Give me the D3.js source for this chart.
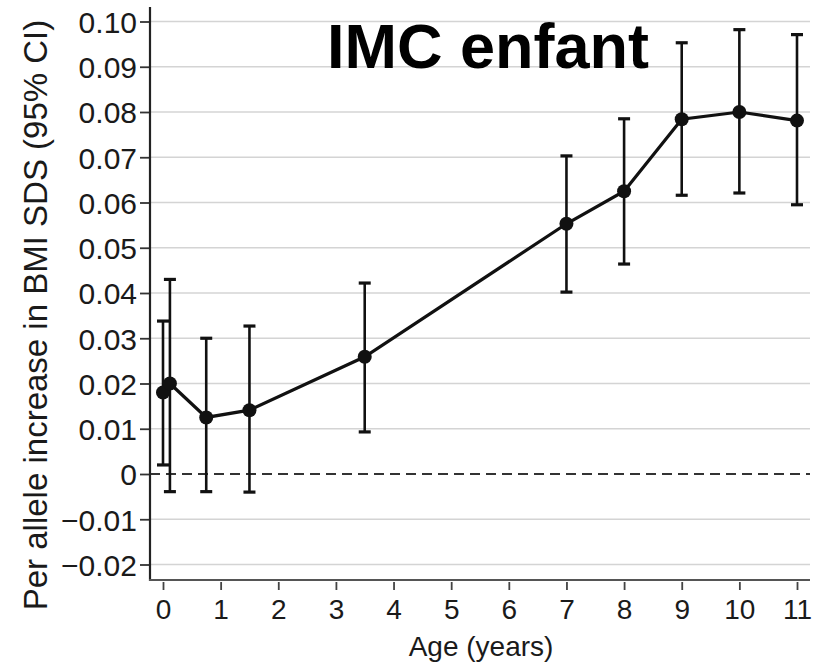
<!DOCTYPE html>
<html>
<head>
<meta charset="utf-8">
<script src="https://cdn.jsdelivr.net/npm/d3@7"></script>
<style>
  body { margin: 0; background: #fff; }
  text { font-family: "Liberation Sans", Arial, sans-serif; }
</style>
</head>
<body>
<script>
// données
const ages = [0, 0.12, 0.75, 1.5, 3.5, 7, 8, 9, 10, 11];
const estimate = [0.018, 0.020, 0.0125, 0.0141, 0.0259, 0.0553, 0.0625, 0.0784, 0.0800, 0.0781];
const lower = [0.002, -0.0039, -0.0039, -0.004, 0.0093, 0.0402, 0.0464, 0.0616, 0.0621, 0.0595];
const upper = [0.0338, 0.043, 0.030, 0.0327, 0.0422, 0.0703, 0.0785, 0.0953, 0.0982, 0.0971];
const xTicks = [0, 1, 2, 3, 4, 5, 6, 7, 8, 9, 10, 11];
const yTicks = [-0.02, -0.01, 0, 0.01, 0.02, 0.03, 0.04, 0.05, 0.06, 0.07, 0.08, 0.09, 0.10];

const points = ages.map((a, i) => ({ age: a, est: estimate[i], lo: lower[i], hi: upper[i] }));

const svg = d3
  .select("body")
  .append("svg")
  .attr("width", 823)
  .attr("height", 666);

const x = d3.scaleLinear().domain([0, 11]).range([163, 797]);
const y = d3.scaleLinear().domain([-0.02, 0.10]).range([564.5, 21.5]);

// grille horizontale
svg
  .selectAll("line.grid")
  .data(yTicks.filter((d) => d !== 0))
  .enter()
  .append("line")
  .attr("class", "grid")
  .attr("x1", 150)
  .attr("x2", 810)
  .attr("y1", (d) => y(d))
  .attr("y2", (d) => y(d))
  .attr("stroke", "#d4d4d4")
  .attr("stroke-width", 1.6);

// ligne zéro en pointillés
svg
  .append("line")
  .attr("x1", 150)
  .attr("x2", 810)
  .attr("y1", y(0))
  .attr("y2", y(0))
  .attr("stroke", "#333")
  .attr("stroke-width", 1.8)
  .attr("stroke-dasharray", "10,6");

// axe Y
const yAxis = d3
  .axisLeft(y)
  .tickValues(yTicks)
  .tickSize(10)
  .tickPadding(3)
  .tickFormat((d) => (d === 0 ? "0" : d3.format(".2f")(d)));

const gy = svg.append("g").attr("transform", "translate(150,0)").call(yAxis);
gy.select(".domain").remove();
gy.selectAll(".tick line").attr("stroke", "#333").attr("stroke-width", 1.8);
gy.selectAll(".tick text")
  .attr("font-size", 30)
  .attr("fill", "#1a1a1a")
  .attr("dy", "0.36em")
  .style("font-family", "'Liberation Sans', Arial, sans-serif");

svg
  .append("line")
  .attr("x1", 150)
  .attr("x2", 150)
  .attr("y1", 7)
  .attr("y2", 581)
  .attr("stroke", "#222")
  .attr("stroke-width", 2.2);

// axe X
const xAxis = d3.axisBottom(x).tickValues(xTicks).tickSize(8).tickPadding(9);
const gx = svg.append("g").attr("transform", "translate(0,582)").call(xAxis);
gx.select(".domain").remove();
gx.selectAll(".tick line").attr("stroke", "#444").attr("stroke-width", 1.8);
gx.selectAll(".tick text")
  .attr("font-size", 28)
  .attr("fill", "#1a1a1a")
  .style("font-family", "'Liberation Sans', Arial, sans-serif");

svg
  .append("line")
  .attr("x1", 149)
  .attr("x2", 810)
  .attr("y1", 580)
  .attr("y2", 580)
  .attr("stroke", "#555")
  .attr("stroke-width", 2.2);

// titres des axes
svg
  .append("text")
  .text("Age (years)")
  .attr("x", 481)
  .attr("y", 656)
  .attr("text-anchor", "middle")
  .attr("font-size", 28)
  .attr("fill", "#1a1a1a");

svg
  .append("text")
  .text("Per allele increase in BMI SDS (95% CI)")
  .attr("transform", "translate(47,315) rotate(-90)")
  .attr("text-anchor", "middle")
  .attr("font-size", 33)
  .attr("fill", "#1a1a1a");

// barres d'erreur
const bars = svg.selectAll("g.err").data(points).enter().append("g").attr("class", "err");
bars
  .append("line")
  .attr("x1", (d) => x(d.age))
  .attr("x2", (d) => x(d.age))
  .attr("y1", (d) => y(d.lo))
  .attr("y2", (d) => y(d.hi))
  .attr("stroke", "#111")
  .attr("stroke-width", 2.6);
["lo", "hi"].forEach((k) => {
  bars
    .append("line")
    .attr("x1", (d) => x(d.age) - 6)
    .attr("x2", (d) => x(d.age) + 6)
    .attr("y1", (d) => y(d[k]))
    .attr("y2", (d) => y(d[k]))
    .attr("stroke", "#111")
    .attr("stroke-width", 3.2);
});

// courbe
svg
  .append("path")
  .datum(points)
  .attr("fill", "none")
  .attr("stroke", "#111")
  .attr("stroke-width", 3.2)
  .attr("d", d3.line().x((d) => x(d.age)).y((d) => y(d.est)));

svg
  .selectAll("circle.pt")
  .data(points)
  .enter()
  .append("circle")
  .attr("class", "pt")
  .attr("cx", (d) => x(d.age))
  .attr("cy", (d) => y(d.est))
  .attr("r", 7)
  .attr("fill", "#111");

// titre
svg
  .append("text")
  .text("IMC enfant")
  .attr("x", 327)
  .attr("y", 68)
  .attr("font-size", 63)
  .attr("font-weight", "bold")
  .attr("fill", "#000");
</script>
</body>
</html>
